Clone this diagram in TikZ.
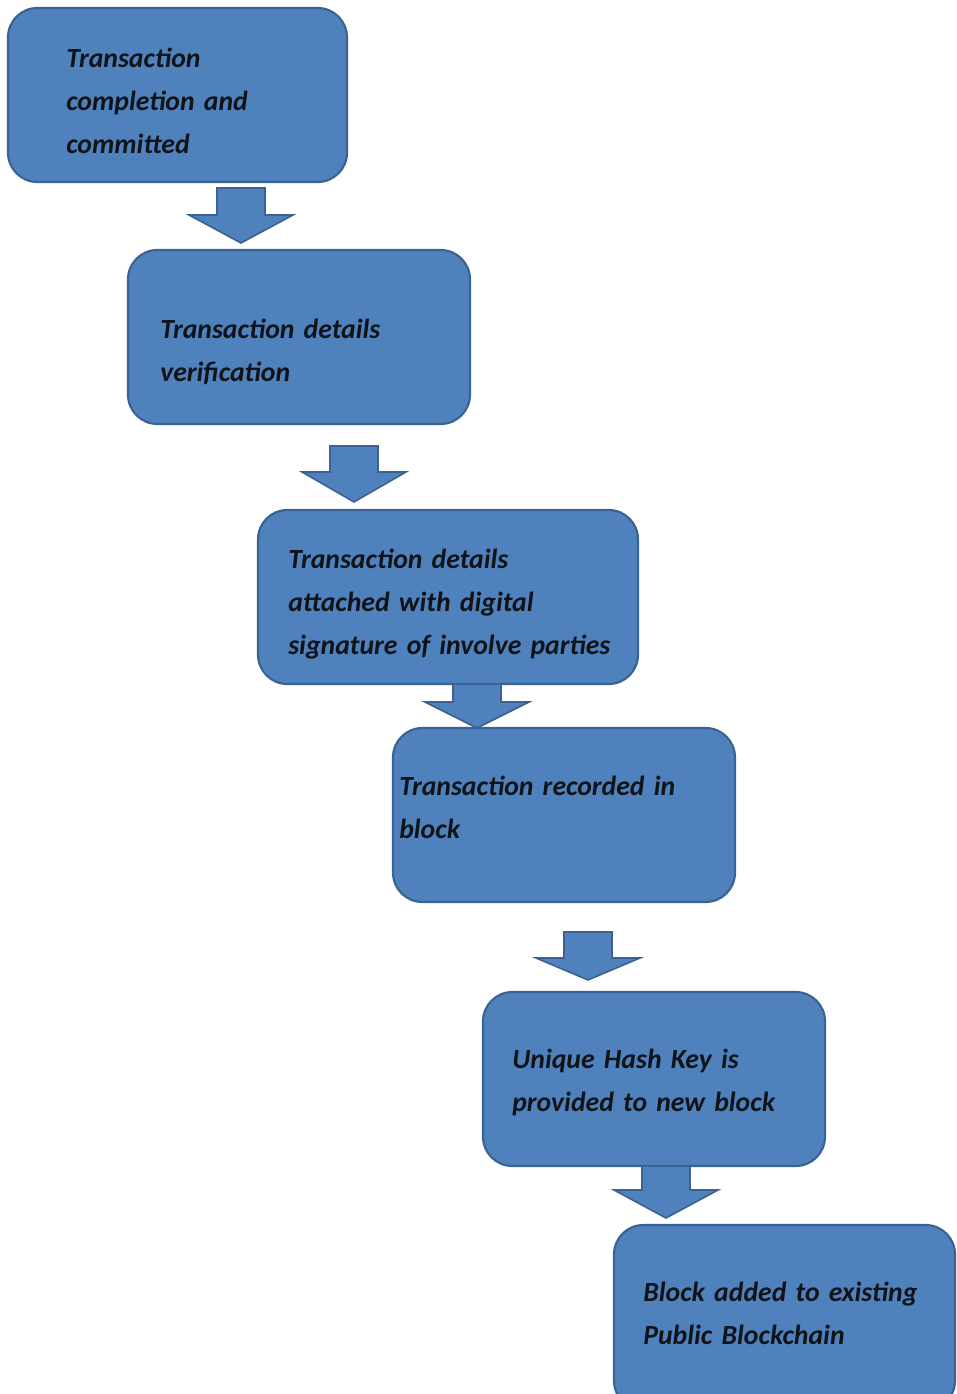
\documentclass[tikz,border=0pt]{standalone}
\usepackage{fontspec}
\setmainfont{Carlito}
\definecolor{boxfill}{HTML}{4F81BD}
\definecolor{boxedge}{HTML}{3A6394}
\definecolor{ink}{HTML}{101418}
\tikzset{
  stepbox/.style={draw=boxedge, fill=boxfill, line width=1.6pt, rounded corners=22pt},
  steptext/.style={anchor=base west, inner sep=0pt, text width=440pt, align=left,
    text=ink, font=\fontsize{20.8}{32.25}\selectfont\bfseries\itshape},
  flowarrow/.style={draw=boxedge, fill=boxfill, line width=1.2pt, line join=miter}
}
% block arrow: #1 name, #2 centre x, #3 top y, #4 neck y, #5 tip y
\newcommand\blockarrowdown[5]{%
  \draw[flowarrow] (#2-24,#3) -- (#2+24,#3) -- (#2+24,#4) -- (#2+52,#4)
    -- (#2,#5) coordinate (#1) -- (#2-52,#4) -- (#2-24,#4) -- cycle;}
\begin{document}
\begin{tikzpicture}[x=0.75pt,y=-0.75pt]
\useasboundingbox (0,0) rectangle (956,1394);
\clip (0,0) rectangle (956,1394);

% process boxes
\draw[stepbox] (8,8) rectangle (347,182);
\node[steptext] (t1) at (66,68) {Transaction\\completion and\\committed};

\draw[stepbox] (128,250) rectangle (470,424);
\node[steptext] (t2) at (160,338) {Transaction details\\verification};

\draw[stepbox] (258,510) rectangle (638,684);
\node[steptext] (t3) at (288,568) {Transaction details\\attached with digital\\signature of involve parties};

\draw[stepbox] (393,728) rectangle (735,902);
\node[steptext] (t4) at (399,795) {Transaction recorded in\\block};

\draw[stepbox] (483,992) rectangle (825,1166);
\node[steptext] (t5) at (512,1068) {Unique Hash Key is\\provided to new block};

\draw[stepbox] (614,1225) rectangle (955,1410);
\node[steptext] (t6) at (643,1301) {Block added to existing\\Public Blockchain};

% block arrows between the steps
\blockarrowdown{a1}{241}{188}{215}{243}
\blockarrowdown{a2}{354}{446}{472}{502}
\blockarrowdown{a3}{477}{684}{702}{728}
\blockarrowdown{a4}{588}{932}{958}{980}
\blockarrowdown{a5}{666}{1166}{1190}{1218}
\end{tikzpicture}
\end{document}
